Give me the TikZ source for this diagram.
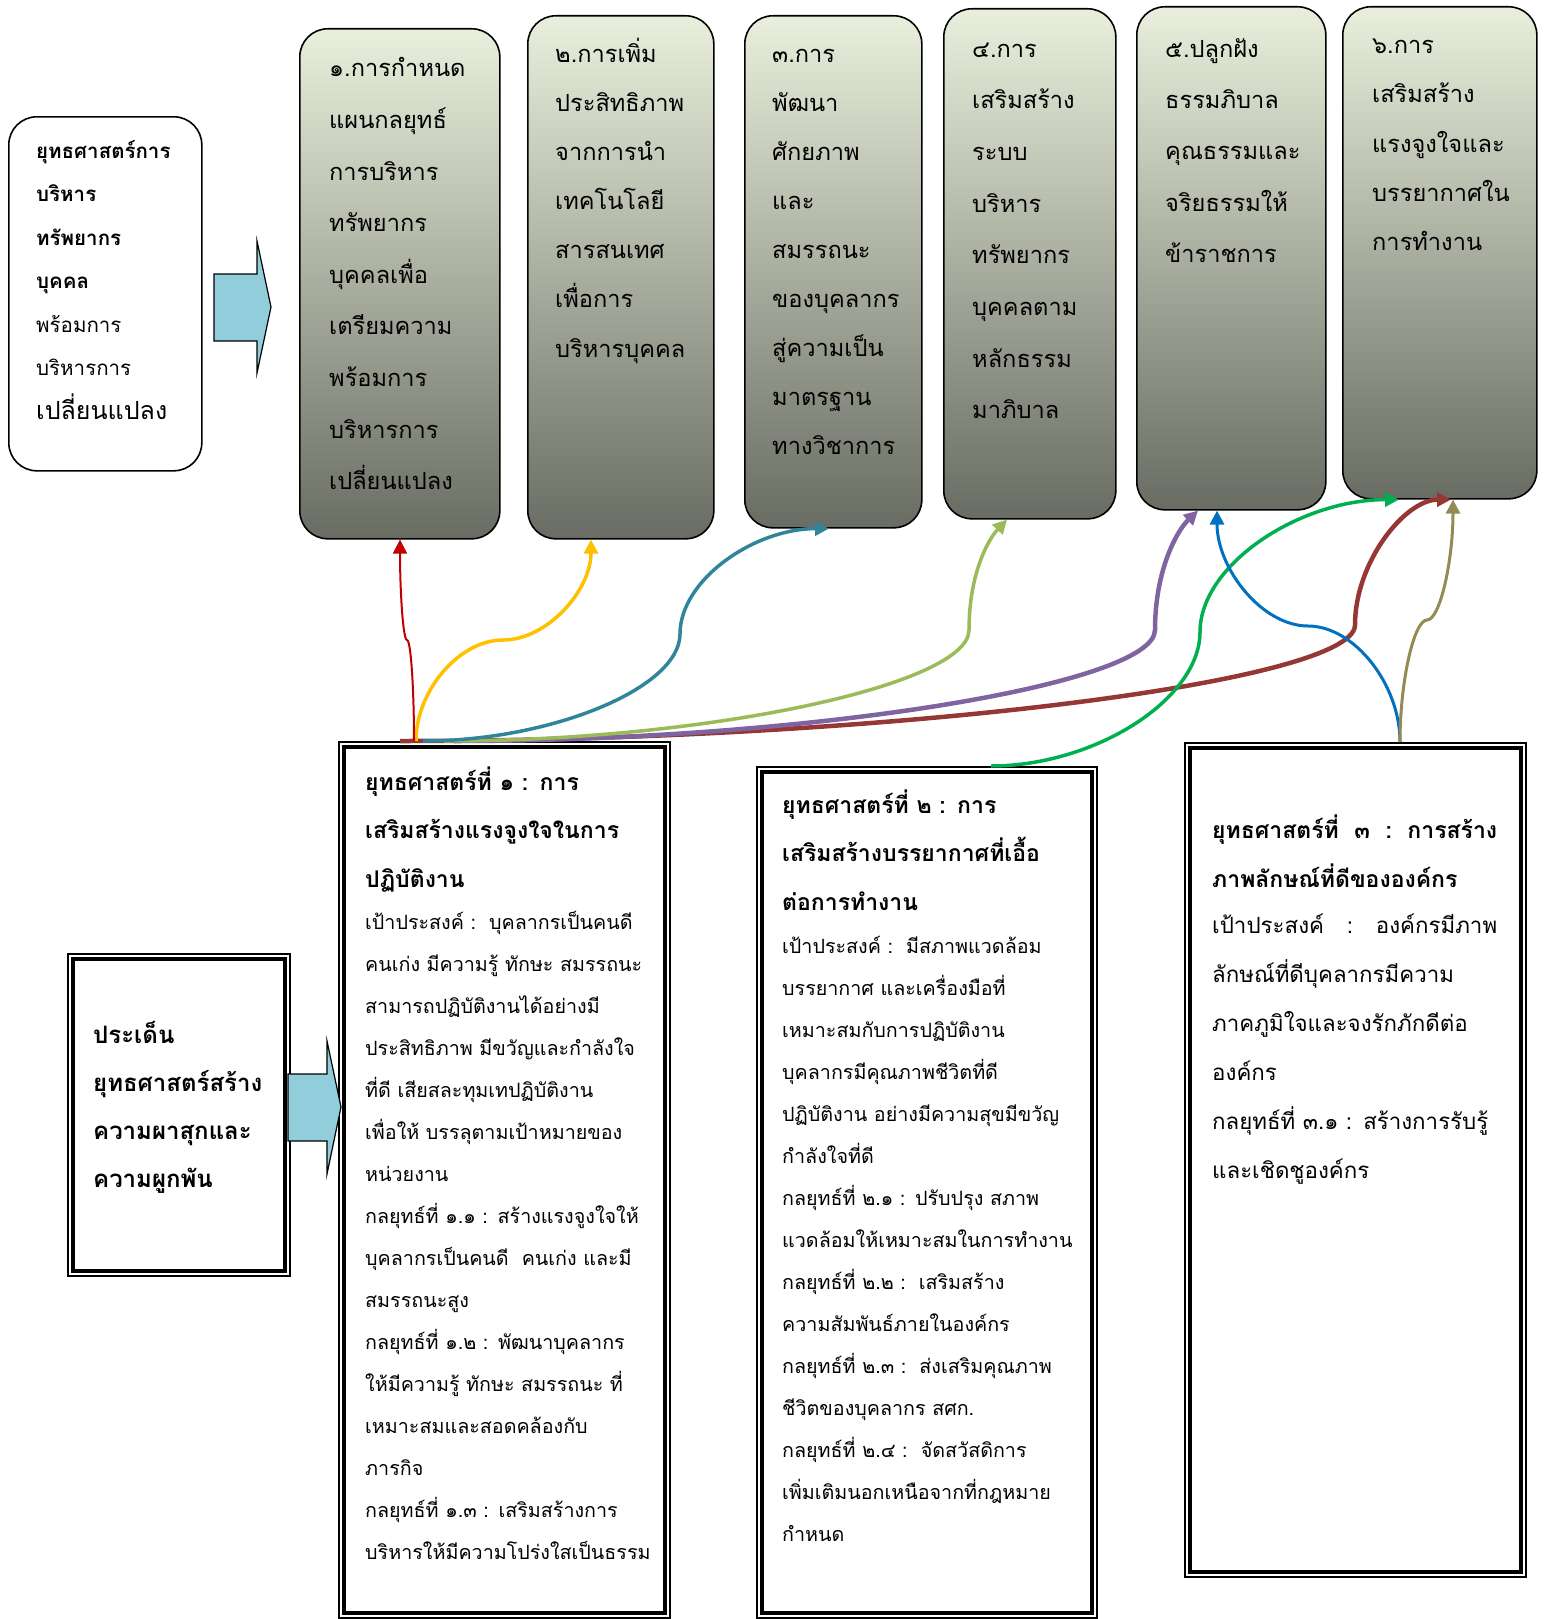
\documentclass[tikz,border=0pt]{standalone}
\usepackage{fontspec}
\usetikzlibrary{arrows.meta}
\newfontfamily\thaifont[Script=Thai]{Loma}
\definecolor{planTop}{RGB}{233,239,220}
\definecolor{planBot}{RGB}{105,108,98}
\definecolor{arrowFill}{RGB}{146,205,220}
\definecolor{linkRed}{RGB}{192,0,0}
\definecolor{linkGold}{RGB}{255,192,0}
\definecolor{linkTeal}{RGB}{49,133,155}
\definecolor{linkLime}{RGB}{155,187,89}
\definecolor{linkViolet}{RGB}{128,100,162}
\definecolor{linkMaroon}{RGB}{149,55,53}
\definecolor{linkGreen}{RGB}{0,176,80}
\definecolor{linkBlue}{RGB}{0,112,192}
\definecolor{linkOlive}{RGB}{148,138,84}
\newcommand{\fsz}[2]{\thaifont\fontsize{#1}{#2}\selectfont}
\newcommand{\inframe}[1]{\draw[line width=3.2pt] ([shift={(6,6)}]#1.north west) rectangle ([shift={(-6,-6)}]#1.south east);}
\tikzset{
  plan/.style={draw, line width=1.6pt, rounded corners=28pt, anchor=north west,
    top color=planTop, bottom color=planBot},
  note/.style={draw, line width=1.6pt, rounded corners=28pt, anchor=north west, fill=white},
  frame/.style={draw, line width=2pt, anchor=north west, fill=white},
  txt/.style={anchor=base west, align=left, inner sep=0pt, text width=400pt},
  blockarrow/.style={draw, line width=1.2pt, fill=arrowFill},
  link/.style={line width=#1, -{Triangle[length=14pt,width=14pt]}},
}
\begin{document}
\begin{tikzpicture}[x=1pt,y=-1pt]
\useasboundingbox (0,0) rectangle (1544,1619);
\node[note, minimum width=193pt, minimum height=354pt] (hrm) at (8,116) {};
\node[plan, minimum width=200pt, minimum height=510pt] (g1) at (299,28) {};
\node[plan, minimum width=186pt, minimum height=523pt] (g2) at (527,15) {};
\node[plan, minimum width=177pt, minimum height=512pt] (g3) at (744,15) {};
\node[plan, minimum width=172pt, minimum height=510pt] (g4) at (943,8) {};
\node[plan, minimum width=189pt, minimum height=503pt] (g5) at (1136,6) {};
\node[plan, minimum width=194pt, minimum height=492pt] (g6) at (1342,6) {};
\node[frame, minimum width=222pt, minimum height=322pt] (issue) at (67,953) {};
\node[frame, minimum width=331pt, minimum height=876pt] (s1) at (338,741) {};
\node[frame, minimum width=340pt, minimum height=851pt] (s2) at (756,766) {};
\node[frame, minimum width=341pt, minimum height=834pt] (s3) at (1184,742) {};
\inframe{issue}
\inframe{s1}
\inframe{s2}
\inframe{s3}

\node[txt, font={\fsz{20.5}{43.5}}] (hrmt) at (36,158) {\bfseries ยุทธศาสตร์การ\\บริหาร\\ทรัพยากร\\บุคคล\\\mdseries พร้อมการ\\บริหารการ\\{\fontsize{25}{43.5}\selectfont เปลี่ยนแปลง}};
\node[txt, font={\fsz{23.6}{51.6}}] (g1t) at (329,77) {๑.การกำหนด\\แผนกลยุทธ์\\การบริหาร\\ทรัพยากร\\บุคคลเพื่อ\\เตรียมความ\\พร้อมการ\\บริหารการ\\เปลี่ยนแปลง};
\node[txt, font={\fsz{23.6}{49}}] (g2t) at (555,63) {๒.การเพิ่ม\\ประสิทธิภาพ\\จากการนำ\\เทคโนโลยี\\สารสนเทศ\\เพื่อการ\\บริหารบุคคล};
\node[txt, font={\fsz{23.6}{48.9}}] (g3t) at (772,63) {๓.การ\\พัฒนา\\ศักยภาพ\\และ\\สมรรถนะ\\ของบุคลากร\\สู่ความเป็น\\มาตรฐาน\\ทางวิชาการ};
\node[txt, font={\fsz{23.6}{51.7}}] (g4t) at (972,57) {๔.การ\\เสริมสร้าง\\ระบบ\\บริหาร\\ทรัพยากร\\บุคคลตาม\\หลักธรรม\\มาภิบาล};
\node[txt, font={\fsz{23.6}{51.5}}] (g5t) at (1165,57) {๕.ปลูกฝัง\\ธรรมภิบาล\\คุณธรรมและ\\จริยธรรมให้\\ข้าราชการ};
\node[txt, font={\fsz{23.6}{49}}] (g6t) at (1372,54) {๖.การ\\เสริมสร้าง\\แรงจูงใจและ\\บรรยากาศใน\\การทำงาน};

\node[txt, font={\fsz{24}{48}\bfseries}] (issuet) at (93,1043) {ประเด็น\\ยุทธศาสตร์สร้าง\\ความผาสุกและ\\ความผูกพัน};

\node[txt, font={\fsz{23}{48.5}\bfseries}] (s1h) at (365,790) {ยุทธศาสตร์ที่ ๑ : การ\\เสริมสร้างแรงจูงใจในการ\\ปฏิบัติงาน};
\node[txt, font={\fsz{19.7}{42}}] (s1b) at (365,929) {เป้าประสงค์ :~~บุคลากรเป็นคนดี\\คนเก่ง มีความรู้ ทักษะ สมรรถนะ\\สามารถปฏิบัติงานได้อย่างมี\\ประสิทธิภาพ มีขวัญและกำลังใจ\\ที่ดี เสียสละทุมเทปฏิบัติงาน\\เพื่อให้ บรรลุตามเป้าหมายของ\\หน่วยงาน\\กลยุทธ์ที่ ๑.๑ : สร้างแรงจูงใจให้\\บุคลากรเป็นคนดี~~คนเก่ง และมี\\สมรรถนะสูง\\กลยุทธ์ที่ ๑.๒ : พัฒนาบุคลากร\\ให้มีความรู้ ทักษะ สมรรถนะ ที่\\เหมาะสมและสอดคล้องกับ\\ภารกิจ\\กลยุทธ์ที่ ๑.๓ : เสริมสร้างการ\\บริหารให้มีความโปร่งใสเป็นธรรม};

\node[txt, font={\fsz{23}{48.5}\bfseries}] (s2h) at (782,813) {ยุทธศาสตร์ที่ ๒ : การ\\เสริมสร้างบรรยากาศที่เอื้อ\\ต่อการทำงาน};
\node[txt, font={\fsz{19.7}{42.07}}] (s2b) at (782,953) {เป้าประสงค์ :~~มีสภาพแวดล้อม\\บรรยากาศ และเครื่องมือที่\\เหมาะสมกับการปฏิบัติงาน\\บุคลากรมีคุณภาพชีวิตที่ดี\\ปฏิบัติงาน อย่างมีความสุขมีขวัญ\\กำลังใจที่ดี\\กลยุทธ์ที่ ๒.๑ : ปรับปรุง สภาพ\\แวดล้อมให้เหมาะสมในการทำงาน\\กลยุทธ์ที่ ๒.๒ :~~เสริมสร้าง\\ความสัมพันธ์ภายในองค์กร\\กลยุทธ์ที่ ๒.๓ :~~ส่งเสริมคุณภาพ\\ชีวิตของบุคลากร สศก.\\กลยุทธ์ที่ ๒.๔ :~~จัดสวัสดิการ\\เพิ่มเติมนอกเหนือจากที่กฎหมาย\\กำหนด};

\node[txt, font={\fsz{23}{49}\bfseries}] (s3h) at (1212,838) {\makebox[285pt]{ยุทธศาสตร์ที่\hfill ๓\hfill :\hfill การสร้าง}\\ภาพลักษณ์ที่ดีขององค์กร};
\node[txt, font={\fsz{22.3}{49}}] (s3b) at (1212,933) {\makebox[285pt]{เป้าประสงค์\hfill :\hfill องค์กรมีภาพ}\\ลักษณ์ที่ดีบุคลากรมีความ\\ภาคภูมิใจและจงรักภักดีต่อ\\องค์กร\\กลยุทธ์ที่ ๓.๑ : สร้างการรับรู้\\และเชิดชูองค์กร};

\draw[blockarrow] (214,274) -- (257,274) -- (257,241) -- (271,307) -- (257,373) -- (257,341) -- (214,341) -- cycle;
\draw[blockarrow] (288,1074) -- (327,1074) -- (327,1041) -- (341,1107) -- (327,1174) -- (327,1141) -- (288,1141) -- cycle;

\coordinate (m1) at (407,640);
\coordinate (m2) at (503,640);
\coordinate (m3) at (680,634);
\coordinate (m4) at (969,630);
\coordinate (m5) at (1155,630);
\coordinate (m6) at (1355,625);
\coordinate (m7) at (1200,632);
\coordinate (m8) at (1308,626);
\coordinate (m9) at (1427,620);
\draw[link=4.5pt, linkMaroon] ([xshift=62]s1.north west) .. controls +(479,0) and +(0,58) .. (m6) .. controls +(0,-63) and +(-46,0) .. ([xshift=109]g6.south west);
\draw[link=4.5pt, linkViolet] ([xshift=116]s1.north west) .. controls +(350,0) and +(0,55) .. (m5) .. controls +(0,-60) and +(-21,20) .. ([xshift=62]g5.south west);
\draw[link=3.5pt, linkLime] ([xshift=106]s1.north west) .. controls +(262,0) and +(0,55) .. (m4) .. controls +(0,-56) and +(-19,20) .. ([xshift=64]g4.south west);
\draw[link=3.5pt, linkTeal] ([xshift=85]s1.north west) .. controls +(128,0) and +(0,54) .. (m3) .. controls +(0,-54) and +(-75,0) .. ([xshift=85]g3.south west);
\draw[link=3.5pt, linkGold] ([xshift=78]s1.north west) .. controls +(0,-50) and +(-44,0) .. (m2) .. controls +(44,0) and +(0,51) .. ([xshift=64]g2.south west);
\draw[link=2pt, linkRed] ([xshift=76]s1.north west) .. controls +(0,-50) and +(4,0) .. (m1) .. controls +(-4,0) and +(0,51) .. ([xshift=101]g1.south west);
\draw[link=3.5pt, linkGreen] ([xshift=235]s2.north west) .. controls +(104,0) and +(0,67) .. (m7) .. controls +(0,-67) and +(-100,0) .. ([xshift=57]g6.south west);
\draw[link=3pt, linkBlue] ([xshift=216]s3.north west) .. controls +(0,-58) and +(46,0) .. (m8) .. controls +(-46,0) and +(0,58) .. ([xshift=81]g5.south west);
\draw[link=3pt, linkOlive] ([xshift=216]s3.north west) .. controls +(0,-61) and +(-13,0) .. (m9) .. controls +(13,0) and +(0,61) .. ([xshift=111]g6.south west);
\end{tikzpicture}
\end{document}
